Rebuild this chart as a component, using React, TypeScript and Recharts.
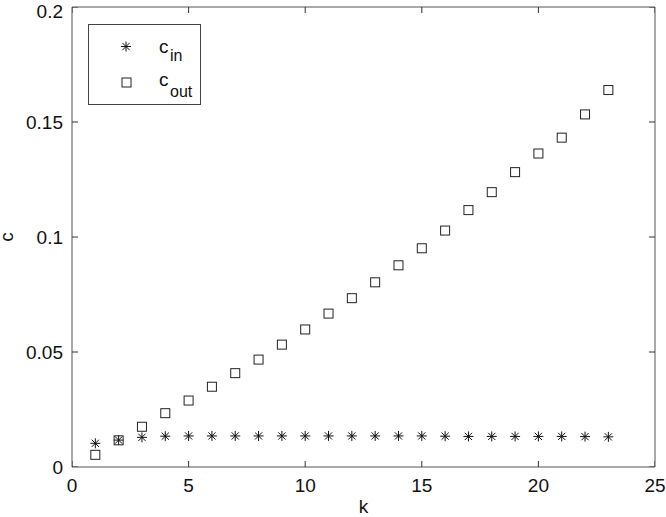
import React from 'react';
import { ScatterChart, Scatter, XAxis, YAxis } from 'recharts';

const kValues = [1, 2, 3, 4, 5, 6, 7, 8, 9, 10, 11, 12, 13, 14, 15, 16, 17, 18, 19, 20, 21, 22, 23];
const cInValues = [0.0103, 0.0117, 0.0129, 0.0134, 0.0135, 0.0135, 0.0135, 0.0135, 0.0135, 0.0135, 0.0135, 0.0135, 0.0135, 0.0135, 0.0135, 0.0134, 0.0133, 0.0133, 0.0133, 0.0133, 0.0133, 0.0132, 0.0131];
const cOutValues = [0.0053, 0.0116, 0.0175, 0.0234, 0.0289, 0.0349, 0.0408, 0.0467, 0.0532, 0.0598, 0.0667, 0.0734, 0.0803, 0.0877, 0.0951, 0.1028, 0.1117, 0.1195, 0.1282, 0.1363, 0.1432, 0.1533, 0.1639];
const xTicks = [0, 5, 10, 15, 20, 25];
const yTicks = [0, 0.05, 0.1, 0.15, 0.2];
const yTickLabels = ['0', '0.05', '0.1', '0.15', '0.2'];

const X_MIN = 0;
const X_MAX = 25;
const Y_MIN = 0;
const Y_MAX = 0.2;

const inData = kValues.map((k, i) => ({ k, c: cInValues[i] }));
const outData = kValues.map((k, i) => ({ k, c: cOutValues[i] }));
// anchors for the inward tick marks on all four sides of the box
const bottomTickData = xTicks.map((k) => ({ k, c: Y_MIN }));
const topTickData = xTicks.map((k) => ({ k, c: Y_MAX }));
const leftTickData = yTicks.map((c) => ({ k: X_MIN, c }));
const rightTickData = yTicks.map((c) => ({ k: X_MAX, c }));

const FONT = '"Liberation Sans", Arial, Helvetica, sans-serif';
const FRAME = '#555';
const TICK_COLOR = '#333';
const TICK_LEN = 6;

const Star = (props: any) => {
  const { cx, cy } = props;
  if (cx == null || cy == null) return <g />;
  const r = 5;
  const d = 3.6;
  return (
    <g stroke="#111" strokeWidth={1}>
      <line x1={cx - r} y1={cy} x2={cx + r} y2={cy} />
      <line x1={cx} y1={cy - r} x2={cx} y2={cy + r} />
      <line x1={cx - d} y1={cy - d} x2={cx + d} y2={cy + d} />
      <line x1={cx - d} y1={cy + d} x2={cx + d} y2={cy - d} />
    </g>
  );
};

const Square = (props: any) => {
  const { cx, cy } = props;
  if (cx == null || cy == null) return <g />;
  const h = 4.5;
  return <rect x={cx - h} y={cy - h} width={2 * h} height={2 * h} fill="none" stroke="#222" strokeWidth={1} />;
};

const makeTick = (dx: number, dy: number) => (props: any) => {
  const { cx, cy } = props;
  if (cx == null || cy == null) return <g />;
  return <line x1={cx} y1={cy} x2={cx + dx * TICK_LEN} y2={cy + dy * TICK_LEN} stroke={TICK_COLOR} strokeWidth={1} />;
};
const TickUp = makeTick(0, -1);
const TickDown = makeTick(0, 1);
const TickRight = makeTick(1, 0);
const TickLeft = makeTick(-1, 0);

const XLabel = (props: any) => {
  const vb = props.viewBox || {};
  return (
    <text x={vb.x + vb.width / 2} y={vb.y + 46} textAnchor="middle" fontSize={19} fontFamily={FONT} fill="#111">
      k
    </text>
  );
};

const YLabel = (props: any) => {
  const vb = props.viewBox || {};
  const x = vb.x + 13;
  const y = vb.y + vb.height / 2;
  return (
    <text x={x} y={y} textAnchor="middle" fontSize={19} fontFamily={FONT} fill="#111" transform={`rotate(-90, ${x}, ${y})`}>
      c
    </text>
  );
};

const tickStyle = { fontSize: 19, fontFamily: FONT, fill: '#111' };

export default function App() {
  return (
    <div style={{ position: 'absolute', left: 0, top: 0, width: 666, height: 517, background: '#fff' }}>
      <ScatterChart width={666} height={517} margin={{ top: 7, right: 11, left: 0, bottom: 0 }}>
        <XAxis
          xAxisId="x"
          dataKey="k"
          type="number"
          domain={[X_MIN, X_MAX]}
          ticks={xTicks}
          allowDataOverflow
          orientation="bottom"
          height={50}
          tickLine={false}
          tickSize={6}
          tickMargin={6}
          axisLine={{ stroke: FRAME }}
          tick={tickStyle}
          label={<XLabel />}
        />
        <XAxis xAxisId="xt" type="number" domain={[X_MIN, X_MAX]} allowDataOverflow orientation="top" mirror tick={false} tickLine={false} axisLine={{ stroke: FRAME }} />
        <YAxis
          yAxisId="y"
          dataKey="c"
          type="number"
          domain={[Y_MIN, Y_MAX]}
          ticks={yTicks}
          allowDataOverflow
          orientation="left"
          width={72}
          tickLine={false}
          tickSize={6}
          tickMargin={3}
          axisLine={{ stroke: FRAME }}
          tick={tickStyle}
          tickFormatter={(v: number) => yTickLabels[yTicks.indexOf(v)] ?? String(v)}
          label={<YLabel />}
        />
        <YAxis yAxisId="yr" type="number" domain={[Y_MIN, Y_MAX]} allowDataOverflow orientation="right" mirror tick={false} tickLine={false} axisLine={{ stroke: FRAME }} />
        <Scatter name="ticks-bottom" data={bottomTickData} xAxisId="x" yAxisId="y" shape={TickUp} isAnimationActive={false} legendType="none" />
        <Scatter name="ticks-top" data={topTickData} xAxisId="x" yAxisId="y" shape={TickDown} isAnimationActive={false} legendType="none" />
        <Scatter name="ticks-left" data={leftTickData} xAxisId="x" yAxisId="y" shape={TickRight} isAnimationActive={false} legendType="none" />
        <Scatter name="ticks-right" data={rightTickData} xAxisId="x" yAxisId="y" shape={TickLeft} isAnimationActive={false} legendType="none" />
        <Scatter name="c_in" data={inData} xAxisId="x" yAxisId="y" shape={Star} isAnimationActive={false} />
        <Scatter name="c_out" data={outData} xAxisId="x" yAxisId="y" shape={Square} isAnimationActive={false} />
      </ScatterChart>
      <svg width={666} height={517} style={{ position: 'absolute', left: 0, top: 0, pointerEvents: 'none' }}>
        <rect x={88.5} y={24.5} width={112} height={80} fill="#fff" stroke="#444" strokeWidth={1} />
        <Star cx={126} cy={46.5} />
        <Square cx={126.5} cy={82.5} />
        <text x={159} y={53} fontSize={19} fontFamily={FONT} fill="#111">
          c
        </text>
        <text x={170} y={60.5} fontSize={16} fontFamily={FONT} fill="#111">
          in
        </text>
        <text x={159} y={86} fontSize={19} fontFamily={FONT} fill="#111">
          c
        </text>
        <text x={170} y={96.5} fontSize={16} fontFamily={FONT} fill="#111">
          out
        </text>
      </svg>
    </div>
  );
}
